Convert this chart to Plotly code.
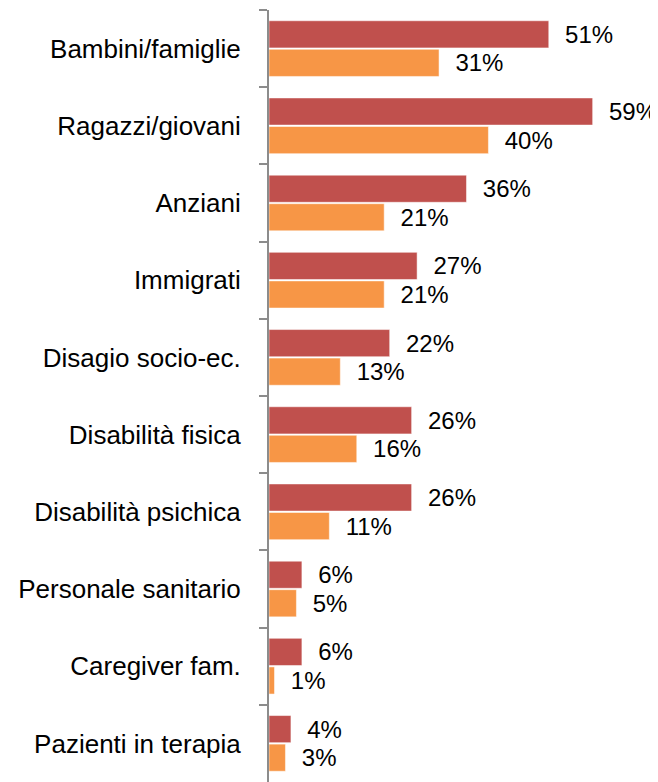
import plotly.graph_objects as go

categories = ["Bambini/famiglie", "Ragazzi/giovani", "Anziani", "Immigrati",
              "Disagio socio-ec.", "Disabilità fisica", "Disabilità psichica",
              "Personale sanitario", "Caregiver fam.", "Pazienti in terapia"]
serie_rossa = [51, 59, 36, 27, 22, 26, 26, 6, 6, 4]
serie_arancio = [31, 40, 21, 21, 13, 16, 11, 5, 1, 3]

fig = go.Figure()
for vals, col in [(serie_rossa, "#C0504D"), (serie_arancio, "#F79646")]:
    fig.add_trace(go.Bar(
        y=categories, x=vals, orientation="h",
        marker=dict(color=col, line=dict(color="rgba(255,255,255,0.5)", width=1)),
        text=[f"  {v}%" for v in vals], textposition="outside",
        textfont=dict(family="Liberation Sans, Arial", size=24, color="black"),
        cliponaxis=False, showlegend=False,
    ))

# the page body adds 8px around the plot, so margins are shifted by that
fig.update_layout(
    width=650, height=774,
    margin=dict(l=261, r=5, t=2, b=0),
    barmode="group", bargap=0.26, bargroupgap=0.05,
    plot_bgcolor="white", paper_bgcolor="white",
    xaxis=dict(range=[0, 70], visible=False),
    yaxis=dict(autorange="reversed", automargin=False, showline=True,
               linecolor="#8c8c8c", linewidth=2,
               ticks="outside", tickson="boundaries", ticklen=8, tickcolor="#8c8c8c",
               tickwidth=2, ticklabelstandoff=21,
               tickfont=dict(family="Liberation Sans, Arial", size=26, color="black")),
)
fig.write_html("out.html")
